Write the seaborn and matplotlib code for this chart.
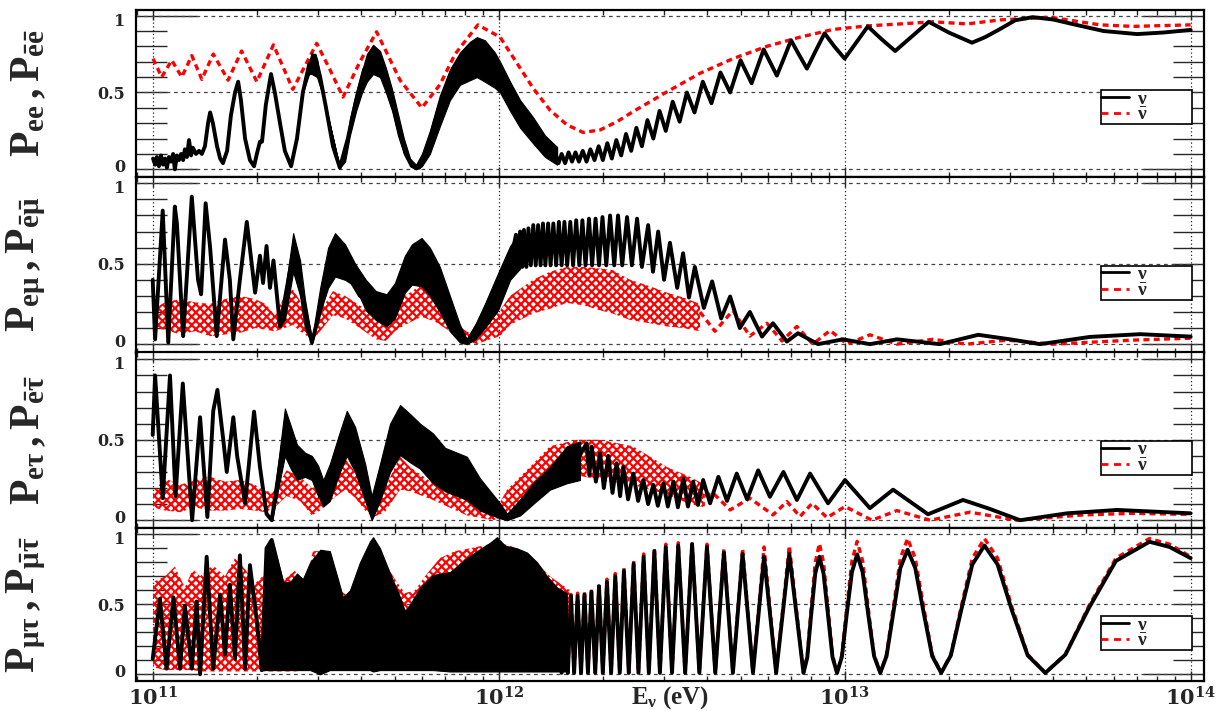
import numpy as np
import pandas as pd
import seaborn as sns
import matplotlib
matplotlib.use("Agg")
import matplotlib.pyplot as plt
from matplotlib.lines import Line2D
from matplotlib.ticker import FixedLocator, LogLocator, NullFormatter
from matplotlib.transforms import ScaledTranslation

# values; first number is log10(E / eV), then probability
# bands are (log10 E, low, high) envelopes of the fast oscillations

# ---- panel 1 : P_ee ----
p1_nu = [(11.001,.07),(11.007,.03),(11.012,.08),(11.018,.02),(11.024,.09),(11.030,.03),(11.036,.07),
         (11.041,.01),(11.047,.08),(11.053,.05),(11.059,.10),(11.064,.00),(11.070,.09),(11.076,.06),
         (11.082,.10),(11.088,.06),(11.093,.13),(11.099,.08),(11.105,.19),(11.111,.09),(11.116,.14),
         (11.125,.10),(11.134,.12),(11.142,.10),(11.151,.15),(11.160,.30),(11.166,.37),(11.174,.30),
         (11.186,.15),(11.195,.07),(11.203,.04),(11.215,.12),(11.226,.35),(11.238,.50),(11.247,.57),
         (11.255,.45),(11.267,.20),(11.281,.06),(11.293,.02),(11.301,.10),(11.310,.18),(11.316,.18),
         (11.327,.42),(11.342,.62),(11.353,.50),(11.368,.30),(11.382,.12),(11.400,.02),(11.417,.20),
         (11.434,.50),(11.452,.68),(11.469,.74),(11.484,.60),(11.501,.40),(11.521,.15),(11.541,.01),
         (11.564,.20),(11.588,.45),(11.611,.65),(11.637,.72),(11.660,.68),(11.686,.50),(11.709,.28),
         (11.732,.10),(11.752,.02),(11.770,.01),(11.796,.15),(11.830,.42),(11.874,.65),(11.917,.74),
         (11.946,.73),(11.975,.67),(12.004,.60),(12.033,.50),(12.062,.38),(12.099,.26),(12.134,.15),
         (12.164,.10),(12.173,.04),(12.182,.10),(12.192,.04),(12.202,.11),(12.212,.05),(12.222,.11),
         (12.232,.05),(12.243,.12),(12.254,.05),(12.265,.13),(12.277,.06),(12.289,.15),(12.301,.06),
         (12.314,.17),(12.327,.07),(12.340,.19),(12.354,.09),(12.368,.23),(12.383,.12),(12.398,.27),
         (12.414,.15),(12.430,.32),(12.447,.20),(12.465,.38),(12.483,.25),(12.503,.44),(12.523,.31),
         (12.544,.50),(12.566,.37),(12.590,.57),(12.615,.43),(12.641,.63),(12.669,.50),(12.699,.71),
         (12.731,.56),(12.766,.78),(12.784,.70),(12.804,.61),(12.824,.72),(12.845,.84),(12.867,.75),
         (12.891,.655),(12.916,.77),(12.942,.885),(12.970,.80),(13.000,.72),(13.032,.82),(13.067,.93),
         (13.105,.85),(13.146,.77),(13.192,.86),(13.243,.96),(13.301,.89),(13.368,.824),(13.406,.86),
         (13.447,.91),(13.493,.97),(13.544,.99),(13.602,.975),(13.669,.94),(13.748,.90),(13.845,.88),
         (13.920,.89),(14.000,.907)]
p1_nu_band = [(11.437,.52,.52),(11.452,.62,.70),(11.460,.62,.76),(11.475,.60,.72),(11.486,.52,.56),
              (11.501,.40,.40),(11.541,.01,.01),(11.556,.05,.12),(11.570,.22,.33),(11.588,.38,.50),
              (11.605,.50,.64),(11.619,.57,.75),(11.637,.62,.81),(11.657,.60,.77),(11.674,.50,.66),
              (11.692,.38,.52),(11.709,.22,.36),(11.726,.10,.20),(11.744,.02,.07),(11.761,.00,.03),
              (11.778,.02,.10),(11.801,.10,.25),(11.830,.28,.48),(11.859,.45,.65),(11.888,.55,.76),
              (11.917,.58,.83),(11.937,.60,.86),(11.960,.57,.84),(11.989,.53,.76),(12.004,.50,.70),
              (12.033,.38,.57),(12.062,.27,.45),(12.099,.17,.34),(12.134,.08,.22),(12.169,.03,.145)]
p1_nubar = [(11.001,.72),(11.026,.60),(11.055,.71),(11.084,.60),(11.113,.74),(11.142,.585),(11.175,.75),
            (11.218,.58),(11.257,.77),(11.301,.57),(11.349,.81),(11.405,.52),(11.474,.82),(11.512,.65),
            (11.550,.47),(11.599,.70),(11.647,.895),(11.715,.58),(11.778,.40),(11.830,.55),(11.874,.75),
            (11.940,.94),(12.004,.86),(12.053,.69),(12.099,.53),(12.148,.386),(12.197,.29),(12.244,.24),
            (12.293,.256),(12.342,.31),(12.388,.375),(12.487,.505),(12.582,.625),(12.677,.72),(12.775,.80),
            (12.871,.86),(12.966,.91),(13.064,.933),(13.160,.946),(13.255,.96),(13.353,.946),(13.449,.972),
            (13.593,.99),(13.738,.94),(13.833,.93),(14.000,.94)]

# ---- panel 2 : P_e mu ----
p2_nu = [(11.000,.40),(11.007,.03),(11.029,.83),(11.045,.01),(11.064,.855),(11.070,.75),(11.088,.05),
         (11.113,.917),(11.131,.40),(11.140,.31),(11.153,.876),(11.166,.60),(11.185,.05),(11.209,.65),
         (11.223,.40),(11.233,.03),(11.252,.40),(11.272,.76),(11.296,.32),(11.310,.55),(11.319,.38),
         (11.329,.61),(11.339,.35),(11.349,.52),(11.368,.11),(11.406,.57),(11.460,.01),(11.527,.56),
         (11.599,.30),(11.676,.21),(11.777,.51),(11.908,.01),(11.998,.33),(12.033,.50),(12.050,.68),
         (12.056,.48),(12.062,.70),(12.068,.48),(12.073,.71),(12.080,.48),(12.086,.72),(12.093,.49),
         (12.100,.74),(12.107,.49),(12.114,.74),(12.121,.49),(12.128,.75),(12.135,.49),(12.143,.75),
         (12.150,.49),(12.158,.75),(12.166,.49),(12.174,.76),(12.182,.49),(12.190,.76),(12.198,.49),
         (12.207,.76),(12.215,.49),(12.224,.77),(12.233,.49),(12.242,.77),(12.251,.49),(12.261,.78),
         (12.270,.49),(12.280,.78),(12.290,.49),(12.300,.79),(12.311,.49),
         (12.322,.80),(12.334,.49),(12.345,.80),(12.357,.49),(12.371,.79),
         (12.385,.49),(12.400,.78),(12.414,.48),(12.432,.74),(12.446,.45),(12.461,.70),(12.478,.40),
         (12.495,.63),(12.516,.35),(12.533,.565),(12.550,.29),(12.567,.48),(12.593,.225),(12.617,.39),
         (12.643,.16),(12.669,.296),(12.697,.10),(12.726,.20),(12.761,.047),(12.793,.13),(12.833,.016),
         (12.865,.068),(12.923,.0),(12.995,.03),(13.073,.0),(13.151,.03),(13.275,.0),(13.386,.058),
         (13.478,.03),(13.565,.0),(13.709,.045),(13.854,.062),(14.000,.047)]
p2_nu_band = [(11.368,.11,.11),(11.382,.15,.32),(11.406,.45,.69),(11.426,.30,.52),(11.440,.10,.28),
              (11.460,.0,.03),(11.484,.20,.35),(11.507,.35,.60),(11.527,.42,.69),(11.556,.40,.62),
              (11.585,.36,.50),(11.616,.21,.40),(11.645,.15,.33),(11.676,.11,.31),(11.700,.16,.38),
              (11.729,.32,.55),(11.749,.37,.62),(11.777,.36,.66),(11.801,.30,.60),(11.830,.20,.48),
              (11.859,.08,.30),(11.888,.01,.12),(11.908,.0,.03),(11.932,.03,.12),(11.960,.10,.25),
              (11.998,.21,.44),(12.033,.40,.61),(12.062,.47,.70)]
p2_nubar = [(12.582,.20),(12.625,.08),(12.677,.21),(12.726,.05),(12.775,.13),(12.819,.02),(12.862,.11),
            (12.908,.0),(12.958,.085),(13.007,.0),(13.073,.058),(13.151,.0),(13.255,.03),(13.353,.0),
            (13.469,.025),(13.602,.0),(13.833,.025),(14.000,.037)]
p2_nubar_band = [(11.001,.10,.22),(11.036,.09,.26),(11.079,.06,.28),(11.122,.08,.26),(11.166,.05,.25),
                 (11.209,.06,.28),(11.252,.07,.30),(11.296,.10,.28),(11.326,.09,.25),(11.353,.08,.18),
                 (11.382,.10,.30),(11.405,.12,.34),(11.426,.08,.27),(11.446,.05,.15),(11.460,.02,.06),
                 (11.484,.08,.20),(11.521,.18,.33),(11.556,.16,.30),(11.599,.10,.24),(11.645,.03,.18),
                 (11.674,.02,.15),(11.700,.08,.22),(11.729,.12,.30),(11.777,.17,.37),(11.816,.14,.30),
                 (11.859,.08,.19),(11.894,.03,.10),(11.936,.0,.04),(11.975,.03,.15),(12.004,.05,.21),
                 (12.033,.12,.30),(12.099,.19,.40),(12.148,.22,.45),(12.197,.256,.48),(12.249,.24,.48),
                 (12.293,.21,.47),(12.330,.19,.46),(12.380,.15,.40),(12.437,.13,.36),(12.487,.11,.32),
                 (12.533,.10,.29),(12.582,.08,.25)]

# ---- panel 3 : P_e tau ----
p3_nu = [(11.000,.53),(11.007,.90),(11.029,.137),(11.050,.90),(11.066,.15),(11.087,.85),(11.114,.0),
         (11.137,.64),(11.158,.02),(11.175,.68),(11.187,.81),(11.204,.50),(11.214,.30),(11.233,.64),
         (11.244,.40),(11.267,.105),(11.293,.675),(11.310,.33),(11.329,.04),(11.344,.0),(11.382,.55),
         (11.417,.36),(11.460,.33),(11.493,.17),(11.561,.54),(11.633,.07),(11.715,.56),(11.810,.38),
         (11.908,.26),(12.004,.06),(12.024,.02),(12.099,.17),(12.148,.26),(12.226,.37),(12.254,.478),
         (12.262,.28),(12.269,.458),(12.281,.24),(12.293,.417),(12.304,.20),(12.317,.40),(12.329,.17),
         (12.341,.354),(12.351,.15),(12.360,.333),(12.374,.13),(12.389,.29),(12.403,.12),(12.418,.25),
         (12.432,.10),(12.447,.22),(12.460,.09),(12.476,.23),(12.489,.085),(12.505,.24),(12.518,.08),
         (12.534,.26),(12.547,.085),(12.562,.24),(12.576,.095),(12.591,.25),(12.611,.105),(12.635,.27),
         (12.660,.12),(12.688,.29),(12.718,.13),(12.750,.31),(12.784,.146),(12.823,.30),(12.862,.126),
         (12.900,.29),(12.952,.105),(13.001,.25),(13.073,.075),(13.140,.19),(13.241,.037),(13.342,.126),
         (13.420,.07),(13.507,.0),(13.643,.043),(13.788,.064),(14.000,.043)]
p3_nu_band = [(11.345,.0,.05),(11.368,.25,.45),(11.382,.40,.695),(11.397,.33,.60),(11.417,.25,.47),
              (11.440,.27,.42),(11.460,.25,.40),(11.478,.15,.34),(11.493,.085,.25),(11.512,.12,.35),
              (11.541,.30,.55),(11.561,.40,.68),(11.585,.30,.58),(11.614,.12,.35),(11.633,.0,.15),
              (11.657,.12,.35),(11.686,.30,.60),(11.715,.405,.716),(11.744,.36,.66),(11.773,.32,.60),
              (11.810,.23,.54),(11.845,.18,.45),(11.908,.126,.395),(11.946,.06,.26),(12.004,.012,.105),
              (12.024,.0,.04),(12.062,.03,.13),(12.099,.10,.23),(12.148,.19,.33),(12.197,.23,.46),
              (12.235,.25,.49)]
p3_nubar = [(12.596,.15),(12.619,.17),(12.669,.064),(12.726,.137),(12.793,.033),(12.833,.116),(12.871,.023),
            (12.906,.105),(12.949,.016),(13.001,.085),(13.079,.0),(13.151,.06),(13.247,.0),(13.362,.05),
            (13.498,.0),(13.689,.033),(13.833,.043),(14.000,.036)]
p3_nubar_band = [(11.001,.08,.18),(11.036,.06,.26),(11.079,.05,.22),(11.122,.08,.25),(11.166,.06,.27),
                 (11.209,.06,.24),(11.252,.07,.25),(11.296,.06,.22),(11.326,.05,.18),(11.353,.08,.18),
                 (11.387,.15,.31),(11.426,.12,.27),(11.460,.03,.20),(11.484,.06,.22),(11.512,.12,.30),
                 (11.556,.19,.385),(11.585,.14,.30),(11.614,.06,.20),(11.638,.02,.12),(11.671,.05,.20),
                 (11.715,.19,.395),(11.744,.18,.33),(11.810,.126,.23),(11.908,.03,.14),(11.984,.0,.03),
                 (12.024,.03,.19),(12.099,.13,.35),(12.148,.24,.46),(12.226,.28,.50),(12.293,.25,.50),
                 (12.388,.22,.46),(12.487,.16,.33),(12.553,.10,.27),(12.596,.08,.22)]

# ---- panel 4 : P_mu tau ----
p4_nu = [(11.000,.11),(11.021,.54),(11.040,.04),(11.060,.55),(11.079,.04),(11.093,.49),(11.113,.04),
         (11.127,.52),(11.137,.0),(11.156,.84),(11.175,.04),(11.195,.57),(11.209,.14),(11.223,.64),
         (11.238,.11),(11.252,.85),(11.267,.04),(11.281,.78),(11.301,.38),(11.315,.03),(11.329,.90),
         (11.344,.96),(11.400,.40),(11.600,.40),(11.800,.40),(12.000,.40),(12.170,.30),
         (12.182,.01),(12.191,.57),(12.200,.01),(12.209,.56),(12.218,.01),(12.228,.56),(12.238,.01),
         (12.248,.57),(12.258,.01),(12.268,.59),(12.279,.01),(12.290,.63),(12.301,.01),(12.313,.66),
         (12.325,.01),(12.337,.70),(12.350,.01),(12.362,.74),(12.376,.01),(12.390,.79),(12.404,.01),
         (12.419,.84),(12.434,.01),(12.450,.88),(12.466,.01),(12.483,.91),(12.501,.01),(12.519,.92),
         (12.539,.01),(12.559,.93),(12.580,.01),(12.602,.91),(12.626,.01),(12.651,.87),(12.677,.01),
         (12.705,.86),(12.735,.01),(12.767,.84),(12.802,.01),(12.840,.86),
         (12.881,.01),(12.892,.12),(12.903,.42),(12.915,.72),(12.927,.84),(12.939,.72),(12.952,.42),
         (12.965,.12),(12.978,.01),(12.992,.125),(13.006,.43),(13.021,.73),(13.036,.857),(13.052,.73),
         (13.068,.43),(13.085,.13),(13.103,.01),(13.121,.13),(13.141,.445),(13.161,.76),(13.182,.89),
         (13.204,.76),(13.228,.445),(13.253,.13),(13.279,.01),(13.307,.135),(13.337,.46),(13.369,.785),
         (13.404,.92),(13.442,.785),(13.483,.46),(13.529,.135),(13.580,.01),(13.638,.14),(13.705,.47),
         (13.784,.81),(13.881,.947),(13.939,.91),(14.000,.83)]
p4_nu_band = [(11.316,.03,.20),(11.329,.03,.90),(11.345,.03,.96),(11.362,.03,.80),(11.377,.03,.66),
              (11.397,.03,.66),(11.417,.03,.72),(11.434,.03,.68),(11.455,.03,.80),(11.484,.0,.89),
              (11.512,.03,.88),(11.533,.03,.70),(11.550,.03,.55),(11.570,.03,.60),(11.599,.03,.80),
              (11.628,.03,.95),(11.637,.02,.98),(11.657,.03,.90),(11.686,.03,.72),(11.715,.03,.55),
              (11.729,.03,.45),(11.744,.03,.50),(11.773,.03,.62),(11.810,.03,.71),(11.859,.02,.73),
              (11.908,.02,.83),(11.937,.02,.88),(11.975,.02,.94),(11.995,.02,.98),(12.018,.02,.92),
              (12.053,.02,.90),(12.082,.02,.87),(12.111,.02,.80),(12.140,.02,.70),(12.169,.02,.62),
              (12.197,.02,.58)]
p4_nubar = [(12.182,.01),(12.191,.58),(12.200,.01),(12.209,.57),(12.218,.01),(12.228,.58),(12.238,.01),
            (12.248,.59),(12.258,.01),(12.268,.61),(12.279,.01),(12.290,.65),(12.301,.01),(12.313,.68),
            (12.325,.01),(12.337,.72),(12.350,.01),(12.362,.76),(12.376,.01),(12.390,.81),(12.404,.01),
            (12.419,.86),(12.434,.01),(12.450,.90),(12.466,.01),(12.483,.93),(12.501,.01),(12.519,.94),
            (12.539,.01),(12.559,.95),(12.580,.01),(12.602,.93),(12.626,.01),(12.651,.90),(12.677,.01),
            (12.705,.90),(12.735,.01),(12.767,.91),(12.802,.01),(12.840,.92),
            (12.881,.01),(12.892,.137),(12.903,.468),(12.915,.80),(12.927,.935),(12.939,.80),(12.952,.468),
            (12.965,.137),(12.978,.01),(12.992,.139),(13.006,.475),(13.021,.81),(13.036,.95),(13.052,.81),
            (13.068,.475),(13.085,.139),(13.103,.01),(13.121,.142),(13.141,.485),(13.161,.83),(13.182,.97),
            (13.204,.83),(13.228,.485),(13.253,.142),(13.279,.01),(13.307,.142),(13.337,.485),(13.369,.83),
            (13.404,.97),(13.442,.83),(13.483,.485),(13.529,.142),(13.580,.01),(13.638,.142),(13.705,.485),
            (13.784,.83),(13.881,.97),(13.939,.93),(14.000,.84)]
p4_nubar_band = [(11.001,.05,.66),(11.036,.03,.70),(11.064,.03,.77),(11.093,.03,.62),(11.116,.03,.75),
                 (11.137,.02,.70),(11.174,.02,.78),(11.209,.02,.70),(11.238,.02,.83),(11.267,.02,.75),
                 (11.296,.02,.65),(11.326,.02,.72),(11.353,.02,.72),(11.382,.02,.68),(11.411,.02,.74),
                 (11.440,.03,.62),(11.463,.03,.88),(11.484,.03,.88),(11.512,.05,.75),(11.541,.08,.60),
                 (11.570,.10,.55),(11.599,.10,.60),(11.628,.06,.78),(11.671,.10,.80),(11.700,.15,.68),
                 (11.729,.05,.58),(11.758,.08,.60),(11.787,.10,.70),(11.830,.12,.83),(11.874,.10,.88),
                 (11.917,.08,.90),(11.955,.06,.92),(11.995,.04,.94),(12.033,.03,.92),(12.090,.02,.85),
                 (12.148,.02,.70),(12.206,.02,.60)]

# ---- axes text ----
x_ticks = [11, 12, 13, 14]
x_tick_labels = [r"$\mathsf{10^{11}}$", r"$\mathsf{10^{12}}$", r"$\mathsf{10^{13}}$", r"$\mathsf{10^{14}}$"]
y_ticks = [0, 1]
y_tick_labels = ["0", "1"]
y_minor_ticks = [0.1, 0.2, 0.3, 0.4, 0.5, 0.6, 0.7, 0.8, 0.9]
y_minor_labels = ["", "", "", "", "0.5", "", "", "", ""]
y_grid = [0, 0.5, 1]
y_labels = [r"$P_{ee}\,,P_{\bar{e}\bar{e}}$",
            r"$P_{e\mu}\,,P_{\bar{e}\bar{\mu}}$",
            r"$P_{e\tau}\,,P_{\bar{e}\bar{\tau}}$",
            r"$P_{\mu\tau}\,,P_{\bar{\mu}\bar{\tau}}$"]
legend_labels = [r"$\nu$", r"$\bar{\nu}$"]
x_label = r"$E_{\nu}$ (eV)"

sns.set_theme(style="white")
plt.rcParams.update({
    "font.family": ["Liberation Serif", "DejaVu Serif"],
    "font.weight": "bold",
    "axes.labelweight": "bold",
    "mathtext.fontset": "custom",
    "mathtext.rm": "Liberation Serif:bold",
    "mathtext.it": "Liberation Serif:bold",
    "mathtext.bf": "Liberation Serif:bold",
    "mathtext.sf": "DejaVu Serif:bold",
    "axes.edgecolor": "black",
    "axes.linewidth": 1.6,
    "hatch.linewidth": 1.6,
})

RED = "#ff0000"
BLACK = "#000000"

# layout of the four stacked frames (figure fractions) and their y ranges
rects = [(0.1111, 0.7515, 0.8725, 0.2345),
         (0.1111, 0.5042, 0.8725, 0.2473),
         (0.1111, 0.2570, 0.8725, 0.2473),
         (0.1111, 0.0426, 0.8725, 0.2143)]
ylims = [(-0.048, 1.037), (-0.052, 1.041), (-0.050, 1.043), (-0.046, 1.043)]
leg_tops = [0.52, 0.494, 0.497, 0.4245]

series = [(p1_nu, p1_nu_band, p1_nubar, None),
          (p2_nu, p2_nu_band, p2_nubar, p2_nubar_band),
          (p3_nu, p3_nu_band, p3_nubar, p3_nubar_band),
          (p4_nu, p4_nu_band, p4_nubar, p4_nubar_band)]


def draw_line(ax, pts, **kw):
    e, p = np.array(pts).T
    df = pd.DataFrame({"E": 10.0 ** e, "P": p})
    sns.lineplot(data=df, x="E", y="P", ax=ax, sort=False, estimator=None,
                 legend=False, **kw)


def draw_band(ax, pts, **kw):
    e, lo, hi = np.array(pts).T
    ax.fill_between(10.0 ** e, lo, hi, **kw)


fig = plt.figure(figsize=(12.24, 7.11), dpi=100)
axes = []
for i, (nu, nu_band, nubar, nubar_band) in enumerate(series):
    ax = fig.add_axes(rects[i])
    axes.append(ax)
    ax.set_xscale("log")

    if nubar_band is not None:
        # dense anti-neutrino oscillations: red dashes with white gaps
        draw_band(ax, nubar_band, facecolor="none", edgecolor=RED, hatch="xxxx",
                  lw=0, zorder=2)
    draw_line(ax, nubar, color=RED, linewidth=2.4, linestyle=(0, (1.8, 1.3)), zorder=3)
    draw_band(ax, nu_band, color=BLACK, lw=0.8, zorder=4)
    draw_line(ax, nu, color=BLACK, linewidth=2.8, zorder=5)

    ax.set_xlim(10 ** 10.9517, 10 ** 14.0384)
    ax.set_ylim(*ylims[i])

    for g in y_grid:
        ax.axhline(g, color="#444444", lw=0.9, ls=(0, (3, 3)), zorder=1)
    ax.xaxis.set_major_locator(FixedLocator([10.0 ** t for t in x_ticks]))
    ax.xaxis.set_minor_locator(LogLocator(base=10, subs=np.arange(2, 10), numticks=100))
    ax.xaxis.set_minor_formatter(NullFormatter())
    ax.grid(axis="x", which="major", color="#222222", lw=0.9, ls=(0, (1, 2)), zorder=1)
    ax.grid(axis="y", visible=False)

    ax.set_yticks(y_ticks, labels=y_tick_labels)
    ax.set_yticks(y_minor_ticks, labels=y_minor_labels, minor=True)
    ax.tick_params(axis="y", which="major", direction="in", length=44, width=1,
                   left=True, right=True, pad=8, labelsize=11.5, labelfontfamily="DejaVu Serif")
    ax.tick_params(axis="y", which="minor", direction="in", length=22, width=1,
                   left=True, right=True, pad=8, labelsize=11.5, labelfontfamily="DejaVu Serif")
    ax.tick_params(axis="x", which="major", direction="in", length=7, width=1,
                   top=True, bottom=True, pad=5, labelsize=15)
    ax.tick_params(axis="x", which="minor", direction="in", length=3.6, width=1,
                   top=True, bottom=True)

    # nudge the 0 / 1 labels apart where two frames meet
    for lab, val in zip(ax.yaxis.get_majorticklabels(), y_ticks):
        shift = 2.5 / 72 if val == 0 else -2.5 / 72
        lab.set_transform(lab.get_transform() + ScaledTranslation(0, shift, fig.dpi_scale_trans))

    if i == 3:
        ax.set_xticks([10.0 ** t for t in x_ticks], labels=x_tick_labels)
        ax.set_xlabel(x_label, fontsize=18, fontweight="bold")
        ax.xaxis.set_label_coords(0.5, -0.02)
    else:
        ax.tick_params(axis="x", which="both", labelbottom=False)
        ax.set_xlabel("")

    ax.set_ylabel(y_labels[i], fontsize=30)
    ax.yaxis.set_label_coords(-0.082, 0.5)

    for side in ["top", "bottom", "left", "right"]:
        ax.spines[side].set_visible(True)
        ax.spines[side].set_linewidth(1.6)
        ax.spines[side].set_color("black")

    handles = [Line2D([], [], color=BLACK, lw=2.0),
               Line2D([], [], color=RED, lw=2.0, ls=(0, (2.5, 2)))]
    leg_h = 0.19
    leg = ax.legend(handles, legend_labels, loc="upper left",
                    bbox_to_anchor=(0.9036, leg_tops[i] - leg_h, 0.0852, leg_h), mode="expand",
                    borderaxespad=0, fontsize=14, handlelength=1.45, handletextpad=0.4,
                    labelspacing=-0.05, borderpad=0.0, frameon=True, fancybox=False)
    leg.get_frame().set_edgecolor("black")
    leg.get_frame().set_linewidth(1.2)
    leg.get_frame().set_alpha(1)
    leg.set_zorder(10)

fig.savefig("out.png", dpi=100)
